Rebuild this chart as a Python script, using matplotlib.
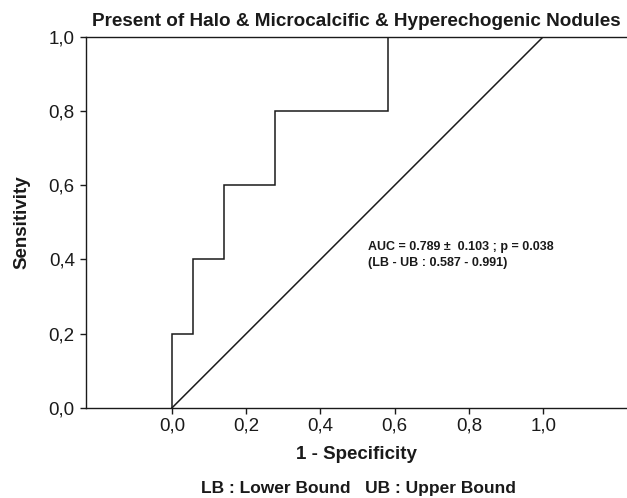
import matplotlib

matplotlib.use("Agg")
import matplotlib.pyplot as plt

# ROC step curve (1 - specificity, sensitivity)
FPR = [0.0, 0.0, 0.056, 0.056, 0.139, 0.139, 0.278, 0.278, 0.583, 0.583, 1.0]
TPR = [0.0, 0.2, 0.2, 0.4, 0.4, 0.6, 0.6, 0.8, 0.8, 1.0, 1.0]
DIAG = [0.0, 1.0]
TICKS = [0.0, 0.2, 0.4, 0.6, 0.8, 1.0]
TICK_LABELS = ["0,0", "0,2", "0,4", "0,6", "0,8", "1,0"]

TITLE = "Present of Halo & Microcalcific & Hyperechogenic Nodules"
AUC_TEXT = "AUC = 0.789 \u00b1  0.103 ; p = 0.038\n(LB - UB : 0.587 - 0.991)"
FOOTNOTE = "LB : Lower Bound   UB : Upper Bound"
INK = "#1a1a1a"

plt.rcParams["font.family"] = ["Liberation Sans", "DejaVu Sans"]

fig = plt.figure(figsize=(6.27, 4.98), dpi=100)
ax = fig.add_axes([0.137, 0.181, 0.863, 0.745])

ax.plot(FPR, TPR, color=INK, linewidth=1.1, solid_joinstyle="miter")
ax.plot(DIAG, DIAG, color=INK, linewidth=1.1)

ax.set_xlim(-0.232, 1.226)
ax.set_ylim(0, 1.0)
ax.set_xticks(TICKS)
ax.set_xticklabels(TICK_LABELS)
ax.set_yticks(TICKS)
ax.set_yticklabels(TICK_LABELS)
ax.tick_params(direction="out", length=4, width=1, colors=INK, labelsize=13.5)
ax.tick_params(axis="x", pad=3)
ax.tick_params(axis="y", pad=4)
ax.spines["right"].set_visible(False)
for s in ("left", "bottom", "top"):
    ax.spines[s].set_color(INK)
    ax.spines[s].set_linewidth(1.0)

ax.set_title(TITLE, fontsize=13.6, fontweight="bold", color=INK, pad=8)
ax.set_xlabel("1 - Specificity", fontsize=13.5, fontweight="bold", color=INK, labelpad=8)
ax.set_ylabel("Sensitivity", fontsize=13.5, fontweight="bold", color=INK, labelpad=13)

ax.text(0.528, 0.412, AUC_TEXT, fontsize=9, fontweight="bold", color=INK,
        ha="left", va="center", linespacing=1.4)

fig.text(0.571, 0.02, FOOTNOTE, fontsize=12.5, fontweight="bold", color=INK,
         ha="center", va="center")

fig.savefig("out.png", dpi=100)
